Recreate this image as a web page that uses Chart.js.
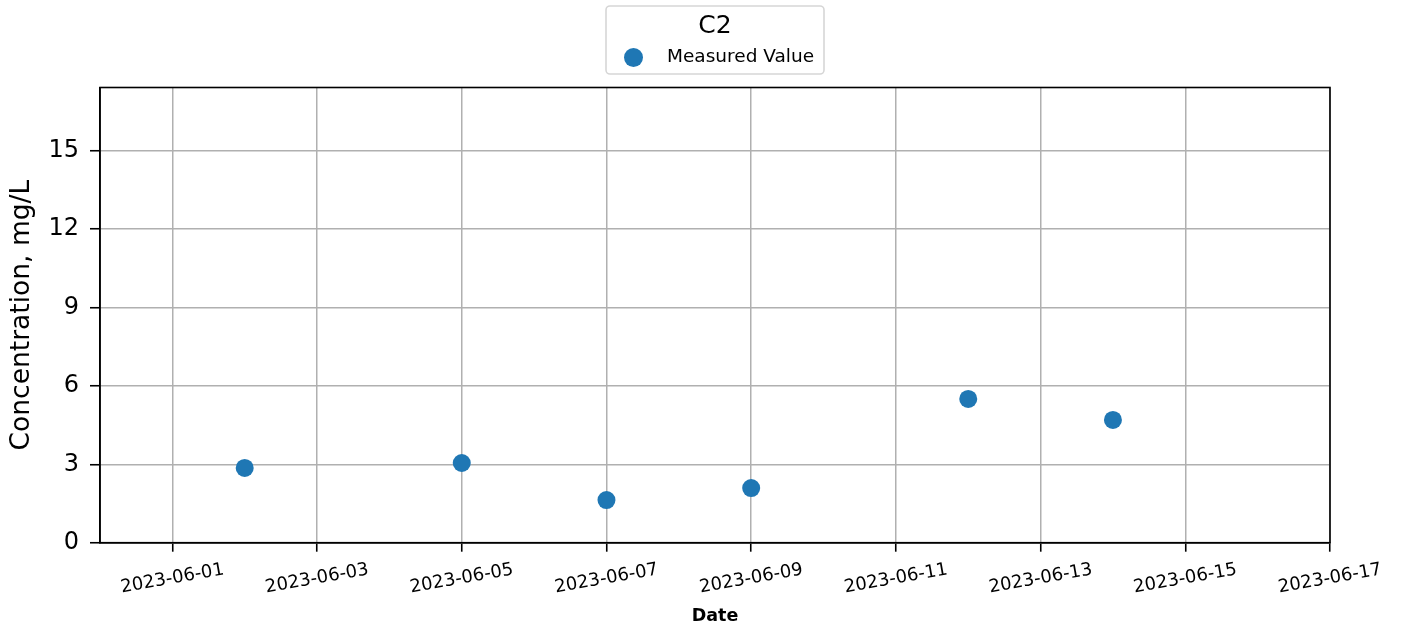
<!DOCTYPE html>
<html>
<head>
<meta charset="utf-8">
<title>C2</title>
<script src="https://cdn.jsdelivr.net/npm/chart.js@4.4.1/dist/chart.umd.min.js"></script>
<style>
    html, body { margin: 0; padding: 0; background: #fff; }
    #wrap { width: 1405px; height: 630px; position: relative; }
</style>
</head>
<body>
<div id="wrap"><canvas id="chart"></canvas></div>
<script>
const sampleDates = ['2023-06-02', '2023-06-05', '2023-06-07', '2023-06-09', '2023-06-12', '2023-06-14'];
const measuredValues = [2.86, 3.05, 1.63, 2.09, 5.50, 4.70];
const dateTicks = ['2023-06-01', '2023-06-03', '2023-06-05', '2023-06-07', '2023-06-09', '2023-06-11', '2023-06-13', '2023-06-15', '2023-06-17'];
const valueTicks = [0, 3, 6, 9, 12, 15];

const FONT = "'DejaVu Sans', 'Liberation Sans', sans-serif";
const POINT_COLOR = '#1f77b4';
const GRID_COLOR = '#b0b0b0';

const toTime = s => Date.parse(s + 'T00:00:00Z');
const fmtDate = v => new Date(v).toISOString().slice(0, 10);

// frame around the plot (top and right sides are not axes)
const frame = {
    id: 'frame',
    afterDatasetsDraw(chart) {
        const { ctx, chartArea: a } = chart;
        ctx.save();
        ctx.strokeStyle = '#000';
        ctx.lineWidth = 1.6;
        ctx.strokeRect(a.left, a.top, a.right - a.left, a.bottom - a.top);
        ctx.restore();
    }
};

// rotated date labels, centred under each tick like matplotlib does it
const dateLabels = {
    id: 'dateLabels',
    afterDraw(chart) {
        const { ctx } = chart;
        const x = chart.scales.x;
        ctx.save();
        ctx.fillStyle = '#000';
        ctx.font = '18px ' + FONT;
        ctx.textAlign = 'center';
        ctx.textBaseline = 'middle';
        x.ticks.forEach(t => {
            const px = x.getPixelForValue(t.value);
            ctx.save();
            ctx.translate(px, x.top + 36);
            ctx.rotate(-10 * Math.PI / 180);
            ctx.fillText(fmtDate(t.value), 0, 0);
            ctx.restore();
        });
        ctx.restore();
    }
};

// legend box with title, drawn above the plot
const boxLegend = {
    id: 'boxLegend',
    afterDraw(chart) {
        const { ctx, chartArea: a } = chart;
        const ds = chart.data.datasets[0];
        const w = 218, h = 68;
        const cx = (a.left + a.right) / 2;
        const left = cx - w / 2, top = 6;
        ctx.save();
        ctx.beginPath();
        ctx.roundRect(left, top, w, h, 4);
        ctx.fillStyle = '#fff';
        ctx.fill();
        ctx.strokeStyle = '#d6d6d6';
        ctx.lineWidth = 1.6;
        ctx.stroke();

        ctx.fillStyle = '#000';
        ctx.font = '25px ' + FONT;
        ctx.textAlign = 'center';
        ctx.textBaseline = 'middle';
        ctx.fillText('C2', cx, top + 20);

        ctx.beginPath();
        ctx.arc(left + 27.5, top + 51.5, 9.5, 0, Math.PI * 2);
        ctx.fillStyle = ds.backgroundColor;
        ctx.fill();

        ctx.fillStyle = '#000';
        ctx.font = '18.5px ' + FONT;
        ctx.textAlign = 'left';
        ctx.fillText(ds.label, left + 61, top + 51.5);
        ctx.restore();
    }
};

new Chart(document.getElementById('chart'), {
    type: 'scatter',
    data: {
        datasets: [{
            label: 'Measured Value',
            data: sampleDates.map((d, i) => ({ x: toTime(d), y: measuredValues[i] })),
            backgroundColor: POINT_COLOR,
            borderWidth: 0,
            pointRadius: 9,
            pointHoverRadius: 9
        }]
    },
    options: {
        responsive: true,
        maintainAspectRatio: false,
        animation: false,
        layout: { padding: { top: 87.5, right: 75, left: 0, bottom: 0 } },
        plugins: {
            legend: { display: false },
            tooltip: { enabled: false }
        },
        scales: {
            x: {
                type: 'linear',
                min: toTime('2023-05-31'),
                max: toTime('2023-06-17'),
                afterBuildTicks: scale => {
                    scale.ticks = dateTicks.map(d => ({ value: toTime(d) }));
                },
                afterFit: scale => {
                    scale.height = 87.3;
                    scale.paddingLeft = 0;
                    scale.paddingRight = 0;
                },
                ticks: { display: false },
                grid: {
                    color: GRID_COLOR,
                    lineWidth: 1.5,
                    tickColor: '#000',
                    tickLength: 9,
                    tickWidth: 1.6
                },
                border: { color: '#000', width: 1.6 },
                title: {
                    display: true,
                    text: 'Date',
                    color: '#000',
                    font: { family: FONT, size: 17.5, weight: 'bold' },
                    padding: { top: 0, bottom: 3 }
                }
            },
            y: {
                min: 0,
                max: 17.42,
                afterBuildTicks: scale => {
                    scale.ticks = valueTicks.map(v => ({ value: v }));
                },
                afterFit: scale => {
                    scale.width = 100;
                    scale.paddingTop = 0;
                    scale.paddingBottom = 0;
                },
                ticks: {
                    color: '#000',
                    padding: 11,
                    font: { family: FONT, size: 24 }
                },
                grid: {
                    color: GRID_COLOR,
                    lineWidth: 1.5,
                    tickColor: '#000',
                    tickLength: 10,
                    tickWidth: 1.6
                },
                border: { color: '#000', width: 1.6 },
                title: {
                    display: true,
                    text: 'Concentration, mg/L',
                    color: '#000',
                    font: { family: FONT, size: 26.5 },
                    padding: { top: 6, bottom: 0 }
                }
            }
        }
    },
    plugins: [frame, dateLabels, boxLegend]
});
</script>
</body>
</html>
